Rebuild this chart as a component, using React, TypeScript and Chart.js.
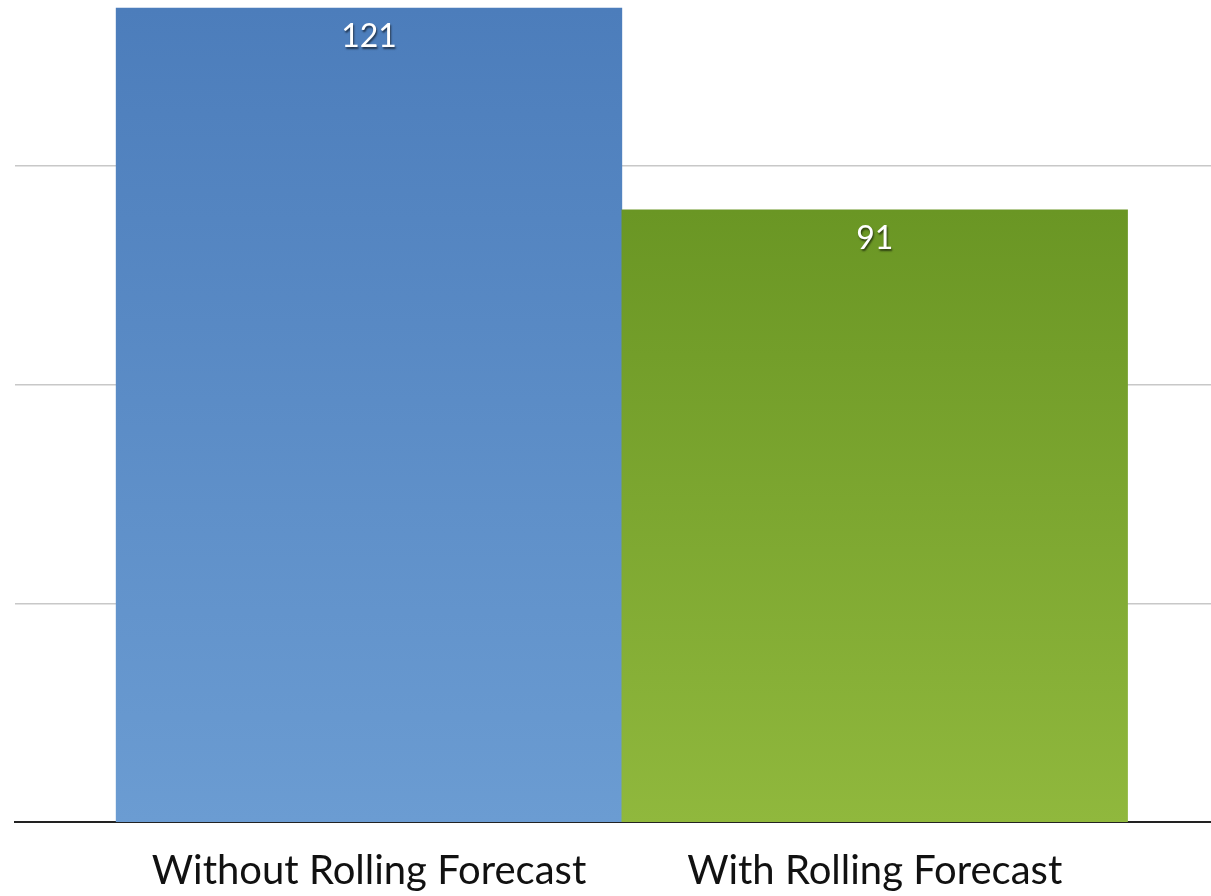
import React, { useEffect, useRef } from "react";
import { Chart, registerables } from "chart.js";

Chart.register(...registerables);

const categories = ["Without Rolling Forecast", "With Rolling Forecast"];
const values = [121, 91];
const gridValues = [32.5, 65, 97.5];
const barTopColors = ["#4c7dbb", "#6a9624"];
const barBottomColors = ["#6b9cd2", "#90b83d"];

const valueLabelPlugin = {
  id: "valueLabels",
  afterDatasetsDraw(chart: any) {
    const ctx = chart.ctx;
    const meta = chart.getDatasetMeta(0);
    ctx.save();
    ctx.font = "32px Lato, 'Open Sans', sans-serif";
    ctx.textAlign = "center";
    ctx.textBaseline = "alphabetic";
    ctx.fillStyle = "#ffffff";
    ctx.shadowColor = "rgba(0,0,0,0.6)";
    ctx.shadowOffsetX = 1;
    ctx.shadowOffsetY = 2;
    ctx.shadowBlur = 2;
    meta.data.forEach((bar: any, i: number) => {
      ctx.fillText(String(values[i]), bar.x, bar.y + 39);
    });
    ctx.restore();
  },
};

export default function App() {
  const ref = useRef<HTMLCanvasElement>(null);

  useEffect(() => {
    if (!ref.current) return;
    const chart = new Chart(ref.current, {
      type: "bar",
      data: {
        datasets: [
          {
            data: values.map((v, i) => ({ x: i, y: v })),
            backgroundColor: (c: any) => {
              const { chart, dataIndex } = c;
              const area = chart.chartArea;
              if (!area || dataIndex === undefined) return barTopColors[0];
              const y = chart.scales.y;
              const top = y.getPixelForValue(values[dataIndex]);
              const g = chart.ctx.createLinearGradient(0, top, 0, area.bottom);
              g.addColorStop(0, barTopColors[dataIndex]);
              g.addColorStop(1, barBottomColors[dataIndex]);
              return g;
            },
            borderWidth: 0,
            barPercentage: 1,
            categoryPercentage: 1,
          },
        ],
      },
      options: {
        animation: false,
        responsive: false,
        maintainAspectRatio: false,
        layout: { padding: { left: 15, right: 0, top: 0, bottom: 0 } },
        plugins: {
          legend: { display: false },
          tooltip: { enabled: false },
        },
        scales: {
          x: {
            type: "linear",
            offset: false,
            min: -0.7,
            max: 1.665,
            grid: { display: false, drawTicks: false, offset: false },
            border: { display: true, color: "#222222", width: 2 },
            afterBuildTicks: (scale: any) => {
              scale.ticks = categories.map((_, i) => ({ value: i }));
            },
            afterFit: (scale: any) => {
              scale.height = 74;
            },
            ticks: {
              autoSkip: false,
              maxRotation: 0,
              padding: 25,
              color: "#111111",
              font: { family: "Lato, 'Open Sans', sans-serif", size: 40 },
              callback: (v: any) => categories[Math.round(Number(v))] ?? "",
            },
          },
          y: {
            min: 0,
            max: 122.2,
            afterBuildTicks: (scale: any) => {
              scale.ticks = gridValues.map((v) => ({ value: v }));
            },
            afterFit: (scale: any) => {
              scale.width = 0;
            },
            grid: { color: "#c8c8c8", lineWidth: 1.5, drawTicks: false },
            border: { display: false },
            ticks: { display: false },
          },
        },
      },
      plugins: [valueLabelPlugin],
    });
    return () => chart.destroy();
  }, []);

  return (
    <div style={{ position: "fixed", left: 0, top: 0, width: 1211, height: 896, background: "#ffffff" }}>
      <canvas ref={ref} width={1211} height={896} style={{ display: "block", width: 1211, height: 896 }} />
    </div>
  );
}
